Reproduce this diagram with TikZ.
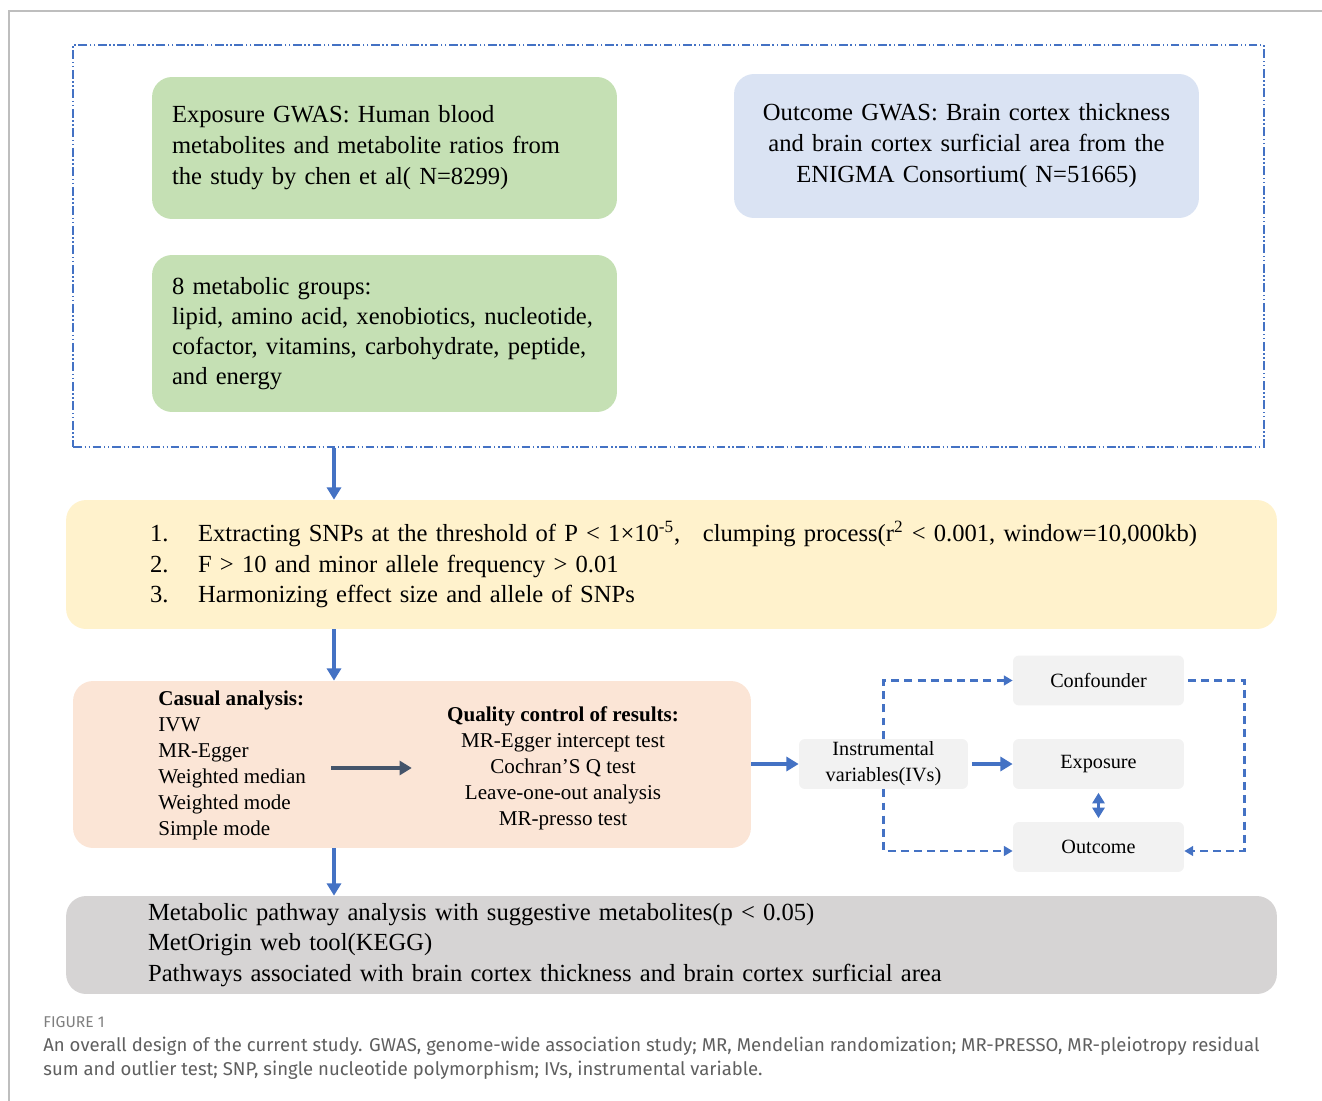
\documentclass[tikz,border=0pt]{standalone}
\usepackage{fontspec}
\setmainfont{Liberation Serif}
\newfontfamily\capfont{Fira Sans}
\usepackage{tikz}
\usetikzlibrary{arrows.meta, positioning, calc}
\definecolor{lineBlue}{RGB}{68, 114, 196}
\definecolor{greenFill}{RGB}{197, 224, 180}
\definecolor{blueFill}{RGB}{218, 227, 243}
\definecolor{yellowFill}{RGB}{255, 242, 204}
\definecolor{orangeFill}{RGB}{251, 229, 214}
\definecolor{greyFill}{RGB}{214, 212, 212}
\definecolor{ivFill}{RGB}{242, 242, 242}
\definecolor{darkArrow}{RGB}{68, 84, 106}
\definecolor{capGrey}{RGB}{95, 95, 95}
\definecolor{frameGrey}{RGB}{190, 190, 190}

\begin{document}
\begin{tikzpicture}[x=0.02cm, y=-0.02cm,
    bigBox/.style={rounded corners=0.4cm, inner xsep=0.4cm, inner ysep=0pt,
        font=\fontsize{14}{17.6}\selectfont, text width=8.5cm,
        minimum width=9.3cm},
    wideBox/.style={rounded corners=0.4cm, inner ysep=0pt, minimum width=24.22cm,
        font=\fontsize{14}{17.3}\selectfont, align=left},
    smallBox/.style={fill=ivFill, rounded corners=0.12cm, minimum height=1cm,
        inner sep=0pt, font=\fontsize{11.5}{14.8}\selectfont, align=center},
    listText/.style={inner sep=0pt, font=\fontsize{12}{14.8}\selectfont},
    flowArrow/.style={lineBlue, line width=1.8pt, -{Triangle[length=7pt, width=8pt]}},
    dashLink/.style={lineBlue, line width=1.4pt, dash pattern=on 4.5pt off 3pt,
        -{Triangle[length=5pt, width=5.5pt]}}
]
    \useasboundingbox (0,0) rectangle (1322,1101);
    \draw[frameGrey, line width=0.6pt] (9,1101) -- (9,11) -- (1322,11);

    % Input data
    \node[draw=lineBlue, line width=0.85pt,
        dash pattern=on 5pt off 1.5pt on 0.8pt off 1.5pt on 0.8pt off 1.5pt,
        minimum width=23.82cm, minimum height=8.04cm] (inputFrame) at (668.5,246) {};
    \node[bigBox, fill=greenFill, minimum height=2.84cm, align=left] (exposureGwas) at (384.5,148)
        {Exposure GWAS: Human blood\\ metabolites and metabolite ratios from\\ the study by chen et al( N=8299)};
    \node[bigBox, fill=blueFill, minimum height=2.88cm, align=center] (outcomeGwas) at (966.5,146)
        {Outcome GWAS: Brain cortex thickness\\ and brain cortex surficial area from the\\ ENIGMA Consortium( N=51665)};
    \node[bigBox, fill=greenFill, minimum height=3.14cm, align=left,
        font=\fontsize{14}{17}\selectfont] (metaGroups) at (384.5,333.5)
        {8 metabolic groups:\\ lipid, amino acid, xenobiotics, nucleotide,\\
         cofactor, vitamins, carbohydrate, peptide,\\ and energy};

    % SNP selection
    \node[wideBox, fill=yellowFill, minimum height=2.58cm, inner xsep=1.68cm,
        text width=20.86cm] (snpBox) at (671.5,564.5)
        {\mbox{\makebox[0.96cm][l]{1.}Extracting SNPs at the threshold of P < 1×10\textsuperscript{-5},\hspace{0.45cm}clumping process(r\textsuperscript{2} < 0.001, window=10,000kb)}\\
         \makebox[0.96cm][l]{2.}F > 10 and minor allele frequency > 0.01\\
         \makebox[0.96cm][l]{3.}Harmonizing effect size and allele of SNPs};

    % MR analysis
    \node[fill=orangeFill, rounded corners=0.4cm, minimum width=13.56cm,
        minimum height=3.34cm] (analysis) at (412,764.5) {};
    \node[listText, anchor=west, align=left] (casual) at (158,765)
        {\textbf{Casual analysis:}\\ IVW\\ MR-Egger\\ Weighted median\\ Weighted mode\\ Simple mode};
    \node[listText, align=center] (quality) at (563,768)
        {\textbf{Quality control of results:}\\ MR-Egger intercept test\\ Cochran'S Q test\\
         Leave-one-out analysis\\ MR-presso test};
    \draw[darkArrow, line width=1.8pt, -{Triangle[length=7pt, width=8pt]},
        shorten <=0.5cm, shorten >=0.7cm] (casual.east |- quality.west) -- (quality.west);

    % MR assumptions
    \node[smallBox, minimum width=3.38cm] (iv) at (883.5,764) {Instrumental\\ variables(IVs)};
    \node[smallBox, minimum width=3.42cm] (conf) at (1098.5,680.5) {Confounder};
    \node[smallBox, minimum width=3.42cm] (expo) at (1098.5,764) {Exposure};
    \node[smallBox, minimum width=3.42cm] (outc) at (1098.5,847) {Outcome};

    \draw[flowArrow] (analysis.east |- iv) -- (iv.west);
    \draw[flowArrow, line width=2.1pt, shorten <=2pt] (iv) -- (expo);
    \draw[lineBlue, line width=1.2pt, {Triangle[length=6pt, width=7pt]}-{Triangle[length=6pt, width=7pt]},
        shorten <=2pt, shorten >=2pt] (expo) -- (outc);
    \draw[dashLink] (iv.north) |- (conf.west);
    \draw[dashLink] (iv.south) |- ($(outc.west)+(0,4)$);
    \draw[dashLink, shorten <=2pt] (conf.east) -- ++(60,0) |- ($(outc.east)+(0,4)$);

    % Pathway analysis
    \node[wideBox, fill=greyFill, minimum height=1.96cm, inner xsep=1.64cm,
        text width=20.94cm, font=\fontsize{14}{17.4}\selectfont] (pathBox) at (671.5,945)
        {Metabolic pathway analysis with suggestive metabolites(p < 0.05)\\
         MetOrigin web tool(KEGG)\\
         Pathways associated with brain cortex thickness and brain cortex surficial area};

    % Main flow
    \coordinate (spine) at (334,0);
    \draw[flowArrow] (inputFrame.south -| spine) -- (snpBox.north -| spine);
    \draw[flowArrow] (snpBox.south -| spine) -- (analysis.north -| spine);
    \draw[flowArrow] (analysis.south -| spine) -- (pathBox.north -| spine);

    % Caption
    \node[anchor=west, inner sep=0pt, text=capGrey!80, font=\capfont\fontsize{8.9}{10}\selectfont]
        (figLabel) at (43,1022) {FIGURE 1};
    \node[anchor=west, inner sep=0pt, text=capGrey, align=left,
        font=\capfont\fontsize{10.55}{13.7}\selectfont] (figCaption) at (43,1058)
        {An overall design of the current study. GWAS, genome-wide association study; MR, Mendelian randomization; MR-PRESSO, MR-pleiotropy residual\\
         sum and outlier test; SNP, single nucleotide polymorphism; IVs, instrumental variable.};
\end{tikzpicture}
\end{document}
